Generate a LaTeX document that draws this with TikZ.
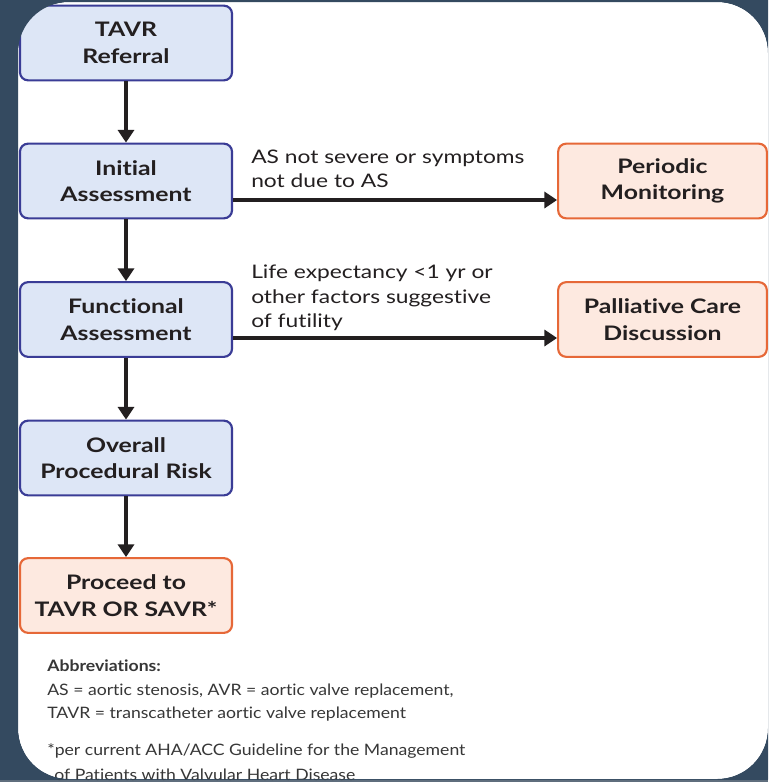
\documentclass[tikz,border=0pt]{standalone}
\usepackage{fontspec}
\setmainfont[Ligatures=NoCommon]{Lato}
% widened faces for the boxes, branch conditions and footnotes
\newfontfamily\boxface[Ligatures=NoCommon, FakeStretch=1.24]{Lato}
\newfontfamily\condface[Ligatures=NoCommon, FakeStretch=1.22]{Lato}
\newfontfamily\noteface[Ligatures=NoCommon, FakeStretch=1.12]{Lato}
\usetikzlibrary{arrows.meta}
\definecolor{frame}{RGB}{52,74,96}
\definecolor{frameline}{RGB}{95,110,125}
\definecolor{bluefill}{RGB}{221,230,246}
\definecolor{blueline}{RGB}{58,60,150}
\definecolor{orangefill}{RGB}{253,233,224}
\definecolor{orangeline}{RGB}{230,104,56}
\definecolor{ink}{RGB}{35,31,32}
\definecolor{noteink}{RGB}{55,55,55}
\tikzset{
  box/.style={draw, line width=1.6pt, rounded corners=6pt, align=center,
    minimum height=56pt, inner sep=0pt, text=ink,
    font=\boxface\fontsize{15}{20}\selectfont\bfseries},
  bluebox/.style={box, fill=bluefill, draw=blueline, minimum width=159pt},
  orangebox/.style={box, fill=orangefill, draw=orangeline, minimum width=156.5pt},
  flow/.style={line width=2.6pt, draw=ink, -{Triangle[length=9.5pt,width=12pt]}},
  branchlabel/.style={anchor=north west, align=left, inner sep=0pt, text=ink,
    font=\condface\fontsize{14}{18}\selectfont},
  note/.style={anchor=west, inner sep=0pt, text=noteink,
    font=\noteface\fontsize{11.8}{17}\selectfont}
}
\begin{document}
\begin{tikzpicture}[x=0.75pt,y=-0.75pt]
\useasboundingbox (0,0) rectangle (768,782);
% dark surround and white card
\fill[frame] (0,0) rectangle (768,782);
\fill[frameline] (0,779.5) rectangle (768,782);
\fill[white, rounded corners=38pt] (18,2) rectangle (768,779);

% main column
\node[bluebox]   (ref)   at (126,43)    {TAVR\\Referral};
\node[bluebox]   (init)  at (126,181)   {Initial\\Assessment};
\node[bluebox]   (func)  at (126,319.5) {Functional\\Assessment};
\node[bluebox]   (risk)  at (126,458)   {Overall\\Procedural Risk};
\node[orangebox, minimum width=159pt] (proc) at (126,595.5) {Proceed to\\TAVR OR SAVR*};

% side outcomes
\node[orangebox] (mon)   at (662.5,181)   {Periodic\\Monitoring};
\node[orangebox] (pall)  at (662.5,319.5) {Palliative Care\\Discussion};

% connectors
\draw[flow] (ref) -- (init);
\draw[flow] (init) -- (func);
\draw[flow] (func) -- (risk);
\draw[flow] (risk) -- (proc);
\draw[flow] (init.east |- 0,200) -- (mon.west |- 0,200);
\draw[flow] (func.east |- 0,338) -- (pall.west |- 0,338);

% branch conditions
\node[branchlabel] (c1) at (251,150) {AS not severe or symptoms\\not due to AS};
\node[branchlabel, font=\condface\fontsize{14}{18.4}\selectfont] (c2) at (251,265)
  {Life expectancy <1 yr or\\other factors suggestive\\of futility};

% footnotes
\node[note, font=\noteface\fontsize{11.8}{17}\selectfont\bfseries] (abbr) at (47,666) {Abbreviations:};
\node[note] (n1) at (47,691) {AS = aortic stenosis, AVR = aortic valve replacement,};
\node[note] (n2) at (47,714) {TAVR = transcatheter aortic valve replacement};
\node[note] (n3) at (47,751) {*per current AHA/ACC Guideline for the Management};
\node[note] (n4) at (54,775) {of Patients with Valvular Heart Disease};

% trim anything that runs past the card edge
\fill[frame, even odd rule] (0,0) rectangle (768,779.5)
  [rounded corners=38pt] (18,2) rectangle (768,779);
\end{tikzpicture}
\end{document}
